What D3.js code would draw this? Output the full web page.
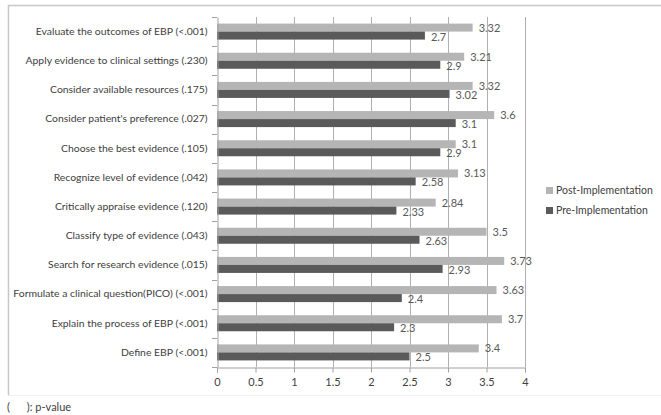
<!DOCTYPE html>
<html><head><meta charset="utf-8">
<script src="https://cdn.jsdelivr.net/npm/d3@7"></script>
<style>
body{margin:0;background:#fff;}
svg{display:block;font-family:Lato, "Open Sans", sans-serif;}
</style></head>
<body><svg id="c" width="661" height="415"></svg>
<script>
const categories = [
 "Evaluate the outcomes of EBP (<.001)",
 "Apply evidence to clinical settings (.230)",
 "Consider available resources (.175)",
 "Consider patient's preference (.027)",
 "Choose the best evidence (.105)",
 "Recognize level of evidence (.042)",
 "Critically appraise evidence (.120)",
 "Classify type of evidence (.043)",
 "Search for research evidence (.015)",
 "Formulate a clinical question(PICO) (<.001)",
 "Explain the process of EBP (<.001)",
 "Define EBP (<.001)"
];
const postValues = [3.32,3.21,3.32,3.6,3.1,3.13,2.84,3.5,3.73,3.63,3.7,3.4];
const preValues  = [2.7,2.9,3.02,3.1,2.9,2.58,2.33,2.63,2.93,2.4,2.3,2.5];
const xTicks = [0,0.5,1,1.5,2,2.5,3,3.5,4];
const seriesNames = ["Post-Implementation","Pre-Implementation"];
const colors = {post:"#b5b5b5", pre:"#5a5a5a"};

const svg = d3.select("#c");
// outer frame
svg.append("path").attr("d","M8.5,395 V5.5 H661").attr("fill","none").attr("stroke","#c8c8c8").attr("stroke-width",1.5);
svg.append("line").attr("x1",8).attr("x2",661).attr("y1",395.5).attr("y2",395.5).attr("stroke","#f0f0f0");

const x = d3.scaleLinear().domain([0,4]).range([217,525]);
const y = d3.scaleBand().domain(categories).range([17,367]).paddingInner(0).paddingOuter(0);
const barH = 8;

// gridlines
svg.append("g").selectAll("line").data(xTicks.slice(1)).join("line")
 .attr("x1",d=>Math.round(x(d))+0.5).attr("x2",d=>Math.round(x(d))+0.5)
 .attr("y1",17).attr("y2",367).attr("stroke","#b0b0b0").attr("stroke-width",1);

// bars
const g = svg.append("g");
categories.forEach((c,i)=>{
  const cy = y(c)+y.bandwidth()/2;
  g.append("rect").attr("x",x(0)).attr("y",cy-barH).attr("width",x(postValues[i])-x(0)).attr("height",barH).attr("fill",colors.post);
  g.append("rect").attr("x",x(0)).attr("y",cy).attr("width",x(preValues[i])-x(0)).attr("height",barH).attr("fill",colors.pre);
  g.append("text").attr("x",x(postValues[i])+6).attr("y",cy-barH/2+4).attr("font-size",11).attr("fill","#595959").text(postValues[i]);
  g.append("text").attr("x",x(preValues[i])+6).attr("y",cy+barH/2+5).attr("font-size",11).attr("fill","#595959").text(preValues[i]);
});

// y axis
const yAxis = d3.axisLeft(y).tickSize(0).tickPadding(10);
const ya = svg.append("g").attr("transform",`translate(${x(0)+0.5},0)`).call(yAxis);
ya.select(".domain").attr("stroke","#a0a0a0");
ya.selectAll("text").attr("font-size",10.4).attr("fill","#404040").attr("font-family","Lato, sans-serif");
// category boundary ticks
svg.append("g").selectAll("line").data(d3.range(categories.length+1)).join("line")
 .attr("x1",x(0)-5).attr("x2",x(0)).attr("y1",i=>Math.round(17+i*y.step())+0.5).attr("y2",i=>Math.round(17+i*y.step())+0.5)
 .attr("stroke","#a0a0a0");

// x axis
const xAxis = d3.axisBottom(x).tickValues(xTicks).tickSize(5).tickPadding(6).tickFormat(d3.format("~g"));
const xa = svg.append("g").attr("transform","translate(0,367.5)").call(xAxis);
xa.select(".domain").attr("stroke","#a0a0a0");
xa.selectAll(".tick line").attr("stroke","#a0a0a0");
xa.selectAll("text").attr("font-size",11).attr("fill","#404040").attr("font-family","Lato, sans-serif");

// legend
const leg = svg.append("g");
[["post",0],["pre",1]].forEach(([k,i])=>{
  leg.append("rect").attr("x",546).attr("y",187+i*20).attr("width",7).attr("height",7).attr("fill",colors[k]);
  leg.append("text").attr("x",556).attr("y",194+i*20).attr("font-size",10.5).attr("fill","#404040").text(seriesNames[i]);
});

// footnote
svg.append("text").attr("x",7).attr("y",411).attr("font-size",11).attr("fill","#404040")
 .style("white-space","pre").text("(      ): p-value");
</script></body></html>
